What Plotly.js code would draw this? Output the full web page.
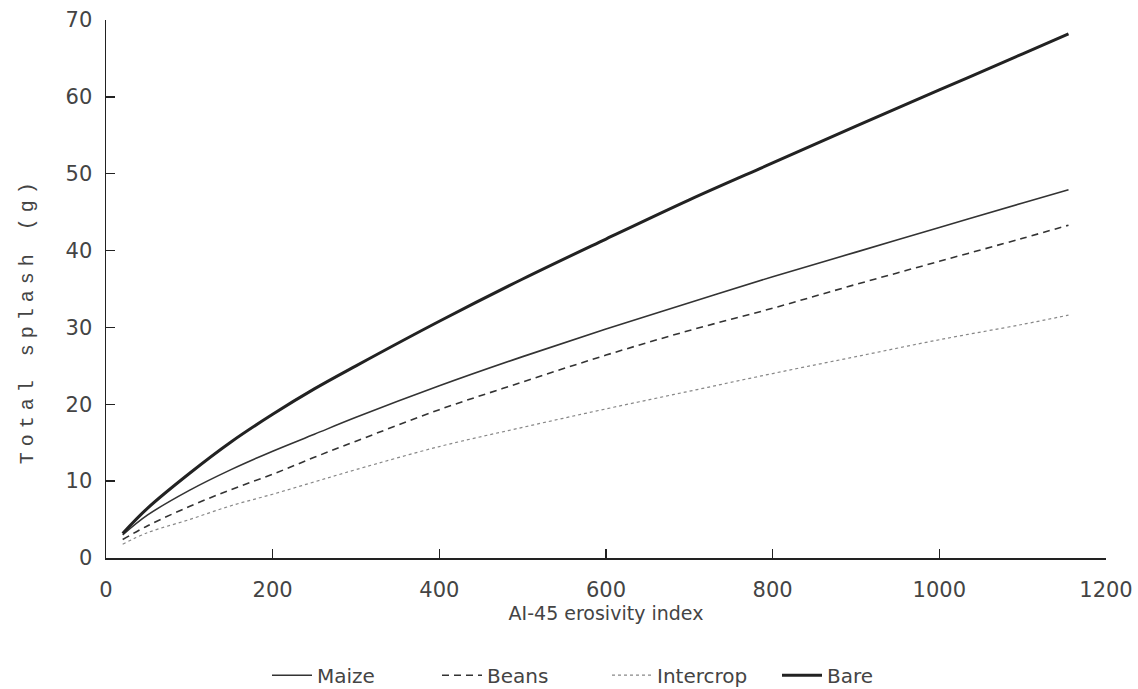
<!DOCTYPE html>
<html>
<head>
<meta charset="utf-8">
<script src="https://cdn.plot.ly/plotly-3.0.1.min.js"></script>
<style>html,body{margin:0;padding:0;background:#fff;}</style>
</head>
<body>
<div id="chart" style="width:1138px;height:689px;"></div>
<script>
const xValues = [20, 50, 100, 150, 200, 250, 300, 400, 500, 600, 700, 800, 900, 1000, 1100, 1155];
const maize = [3.0, 5.6, 8.8, 11.5, 13.9, 16.1, 18.3, 22.4, 26.2, 29.8, 33.2, 36.6, 39.8, 43.0, 46.2, 47.9];
const beans = [2.4, 4.2, 6.7, 8.9, 10.9, 13.1, 15.2, 19.3, 22.9, 26.4, 29.6, 32.5, 35.6, 38.6, 41.6, 43.3];
const intercrop = [1.8, 3.3, 5.0, 6.8, 8.3, 9.9, 11.5, 14.5, 17.0, 19.4, 21.7, 24.0, 26.2, 28.4, 30.4, 31.6];
const bare = [3.2, 6.5, 11.0, 15.1, 18.7, 22.0, 25.0, 30.8, 36.3, 41.5, 46.6, 51.4, 56.2, 60.9, 65.6, 68.2];
const seriesNames = ["Maize", "Beans", "Intercrop", "Bare"];
const xTicks = [0, 200, 400, 600, 800, 1000, 1200];
const yTicks = [0, 10, 20, 30, 40, 50, 60, 70];
const xTitle = "AI-45 erosivity index";
const yTitle = "Total splash (g)";

const traces = [
  {x: xValues, y: maize, name: seriesNames[0], mode: "lines",
   line: {color: "#333", width: 1.6, shape: "spline"}},
  {x: xValues, y: beans, name: seriesNames[1], mode: "lines",
   line: {color: "#333", width: 1.6, dash: "7px,5px", shape: "spline"}},
  {x: xValues, y: intercrop, name: seriesNames[2], mode: "lines",
   line: {color: "#888", width: 1.2, dash: "dot", shape: "spline"}},
  {x: xValues, y: bare, name: seriesNames[3], mode: "lines",
   line: {color: "#222", width: 3, shape: "spline"}}
];

const axisCommon = {
  showgrid: false, zeroline: false, showline: true, automargin: false,
  linecolor: "#222", linewidth: 1.5,
  ticks: "inside", ticklen: 9, tickwidth: 1.5, tickcolor: "#222",
  tickfont: {family: "DejaVu Sans, sans-serif", size: 21, color: "#444"}
};

const layout = {
  width: 1138, height: 689,
  margin: {l: 106, r: 32, t: 20, b: 131},
  paper_bgcolor: "#fff", plot_bgcolor: "#fff",
  showlegend: true,
  xaxis: Object.assign({}, axisCommon, {
    range: [0, 1200], tickvals: xTicks, ticklabelstandoff: 12,
    title: {text: xTitle, standoff: 4,
            font: {family: "DejaVu Sans, sans-serif", size: 19, color: "#444"}}
  }),
  yaxis: Object.assign({}, axisCommon, {
    range: [0, 70], tickvals: yTicks, ticklabelstandoff: 8
  }),
  legend: {orientation: "h", xref: "paper", yref: "container",
           x: 0.161, xanchor: "left", y: 0.02, yanchor: "middle",
           entrywidth: 115, entrywidthmode: "pixels",
           font: {family: "DejaVu Sans, sans-serif", size: 20, color: "#444"},
           itemwidth: 40, tracegroupgap: 0},
  annotations: [{
    text: yTitle, xref: "paper", yref: "paper", x: -0.079, y: 0.442,
    textangle: -90, showarrow: false, xanchor: "center", yanchor: "middle",
    font: {family: "Liberation Mono, DejaVu Sans Mono, monospace", size: 20, color: "#444"}
  }]
};

Plotly.newPlot("chart", traces, layout, {displayModeBar: false, staticPlot: true}).then(function () {
  document.querySelectorAll(".annotation-text").forEach(function (el) {
    el.style.letterSpacing = "6px";
  });
});
</script>
</body>
</html>
